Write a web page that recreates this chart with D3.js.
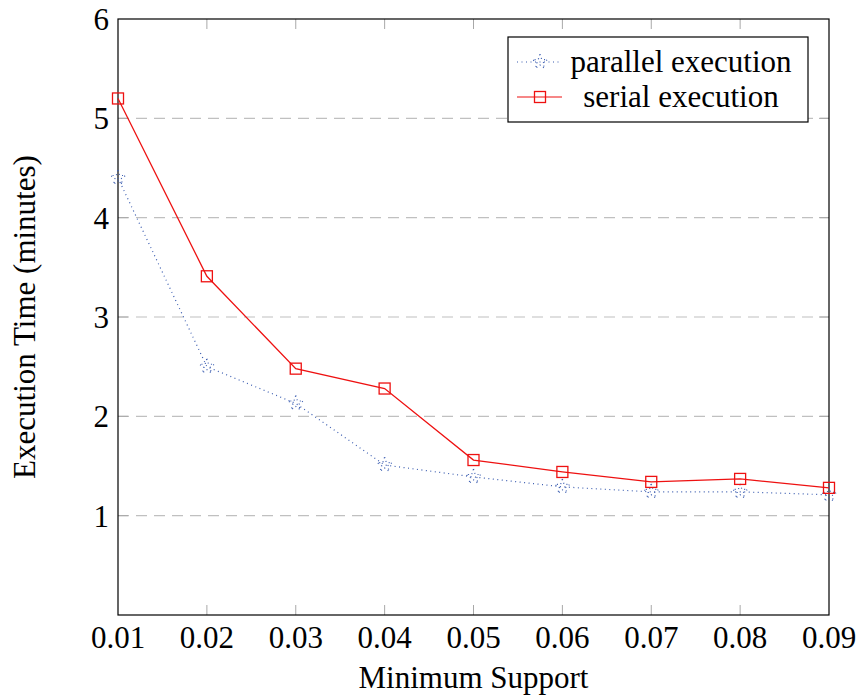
<!DOCTYPE html>
<html lang="en">
<head>
    <meta charset="UTF-8">
    <title>Execution Time</title>
    <script src="https://cdn.jsdelivr.net/npm/d3@7"></script>
    <style>
        body { margin: 0; background: #fff; }
        text { font-family: "Liberation Serif", "Times New Roman", serif; }
    </style>
</head>
<body>
    <script>
        let support = [0.01, 0.02, 0.03, 0.04, 0.05, 0.06, 0.07, 0.08, 0.09];
        let parallel = [4.4, 2.5, 2.13, 1.51, 1.39, 1.29, 1.24, 1.24, 1.21];
        let serial = [5.2, 3.41, 2.48, 2.28, 1.56, 1.44, 1.34, 1.37, 1.28];
        let yTicks = [1, 2, 3, 4, 5, 6];
        let seriesNames = ['parallel execution', 'serial execution'];

        let width = 861,
            height = 698,
            padding = { top: 19, left: 118, bottom: 83, right: 32 };

        let svg = d3.select('body').append('svg').attr('width', width).attr('height', height);

        let x = d3.scaleLinear().domain([0.01, 0.09]).range([padding.left, width - padding.right]);
        let y = d3.scaleLinear().domain([0, 6]).range([height - padding.bottom, padding.top]);
        let x0 = x.range()[0], x1 = x.range()[1], y0 = y.range()[0], y1 = y.range()[1];

        // grid
        svg.append('g').selectAll('line').data(yTicks.slice(0, -1)).join('line')
            .attr('x1', x0).attr('x2', x1)
            .attr('y1', d => y(d)).attr('y2', d => y(d))
            .attr('stroke', '#c0c0c0').attr('stroke-width', 1.2)
            .attr('stroke-dasharray', '11,7');

        // inner ticks (all four sides)
        let tickLen = 10;
        let tk = svg.append('g').attr('stroke', '#a8a8a8').attr('stroke-width', 1);
        support.slice(1, -1).forEach(d => {
            tk.append('line').attr('x1', x(d)).attr('x2', x(d)).attr('y1', y0).attr('y2', y0 - tickLen);
            tk.append('line').attr('x1', x(d)).attr('x2', x(d)).attr('y1', y1).attr('y2', y1 + tickLen);
        });
        yTicks.slice(0, -1).forEach(d => {
            tk.append('line').attr('x1', x0).attr('x2', x0 + tickLen).attr('y1', y(d)).attr('y2', y(d));
            tk.append('line').attr('x1', x1).attr('x2', x1 - tickLen).attr('y1', y(d)).attr('y2', y(d));
        });

        // frame
        svg.append('rect').attr('x', x0).attr('y', y1).attr('width', x1 - x0).attr('height', y0 - y1)
            .attr('fill', 'none').attr('stroke', '#000').attr('stroke-width', 1.2);

        // tick labels
        svg.append('g').selectAll('text').data(support).join('text')
            .attr('x', d => x(d)).attr('y', y0 + 33)
            .attr('text-anchor', 'middle').attr('font-size', 31)
            .text(d3.format('.2f'));
        svg.append('g').selectAll('text').data(yTicks).join('text')
            .attr('x', x0 - 9).attr('y', d => y(d)).attr('dy', '0.35em')
            .attr('text-anchor', 'end').attr('font-size', 31)
            .text(d => d);

        // axis labels
        svg.append('text').attr('x', (x0 + x1) / 2).attr('y', 688)
            .attr('text-anchor', 'middle').attr('font-size', 31).text('Minimum Support');
        svg.append('text').attr('transform', `translate(35,${(y0 + y1) / 2}) rotate(-90)`)
            .attr('text-anchor', 'middle').attr('font-size', 31).text('Execution Time (minutes)');

        let line = d3.line().x((d, i) => x(support[i])).y(d => y(d));
        let blue = '#3a5cb0', red = '#ee1111';
        let star = d3.symbol().type(d3.symbolStar).size(70);

        // parallel series
        svg.append('path').datum(parallel).attr('d', line)
            .attr('fill', 'none').attr('stroke', blue).attr('stroke-width', 1.2)
            .attr('stroke-dasharray', '1,3.5');
        svg.append('g').selectAll('path').data(parallel).join('path')
            .attr('transform', (d, i) => `translate(${x(support[i])},${y(d)})`)
            .attr('d', star)
            .attr('fill', 'none').attr('stroke', blue).attr('stroke-width', 1.2)
            .attr('stroke-dasharray', '1,3');

        // serial series
        svg.append('path').datum(serial).attr('d', line)
            .attr('fill', 'none').attr('stroke', red).attr('stroke-width', 1.3);
        svg.append('g').selectAll('rect').data(serial).join('rect')
            .attr('x', (d, i) => x(support[i]) - 5.5).attr('y', d => y(d) - 5.5)
            .attr('width', 11).attr('height', 11)
            .attr('fill', 'none').attr('stroke', red).attr('stroke-width', 1.3);

        // legend
        let lg = svg.append('g');
        lg.append('rect').attr('x', 508).attr('y', 37).attr('width', 300).attr('height', 85)
            .attr('fill', '#fff').attr('stroke', '#000').attr('stroke-width', 1.2);
        seriesNames.forEach((name, i) => {
            let cy = 62 + i * 35;
            let isPar = i === 0;
            lg.append('line').attr('x1', 517).attr('x2', 562).attr('y1', cy).attr('y2', cy)
                .attr('stroke', isPar ? blue : red).attr('stroke-width', 1.2)
                .attr('stroke-dasharray', isPar ? '1,3.5' : null);
            if (isPar) {
                lg.append('path').attr('transform', `translate(540,${cy})`).attr('d', star)
                    .attr('fill', 'none').attr('stroke', blue).attr('stroke-width', 1.2).attr('stroke-dasharray', '1,3');
            } else {
                lg.append('rect').attr('x', 534.5).attr('y', cy - 5.5).attr('width', 11).attr('height', 11)
                    .attr('fill', 'none').attr('stroke', red).attr('stroke-width', 1.3);
            }
            lg.append('text').attr('x', 681).attr('y', cy).attr('dy', '0.33em')
                .attr('text-anchor', 'middle').attr('font-size', 31).text(name);
        });
    </script>
</body>
</html>
